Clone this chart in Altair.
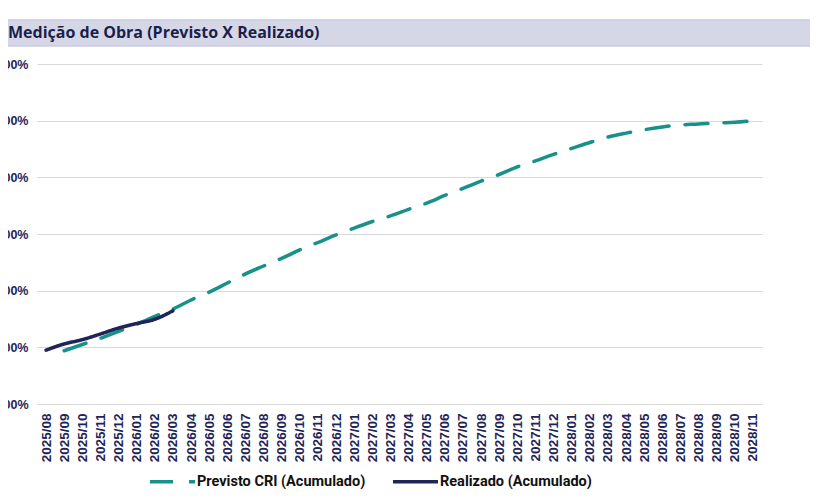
import altair as alt
import pandas as pd

meses = [
    "2025/08", "2025/09", "2025/10", "2025/11", "2025/12",
    "2026/01", "2026/02", "2026/03", "2026/04", "2026/05", "2026/06", "2026/07",
    "2026/08", "2026/09", "2026/10", "2026/11", "2026/12",
    "2027/01", "2027/02", "2027/03", "2027/04", "2027/05", "2027/06", "2027/07",
    "2027/08", "2027/09", "2027/10", "2027/11", "2027/12",
    "2028/01", "2028/02", "2028/03", "2028/04", "2028/05", "2028/06", "2028/07",
    "2028/08", "2028/09", "2028/10", "2028/11",
]

# Previsto CRI (Acumulado) from 2025/09 to 2028/11
previsto = [
    0.188, 0.210, 0.232, 0.256, 0.282, 0.309, 0.335, 0.367, 0.395, 0.427,
    0.459, 0.487, 0.514, 0.544, 0.570, 0.597, 0.621, 0.644, 0.664, 0.687,
    0.709, 0.736, 0.761, 0.787, 0.810, 0.837, 0.858, 0.881, 0.902, 0.923,
    0.942, 0.956, 0.968, 0.978, 0.985, 0.988, 0.992, 0.994, 1.000,
]
# Realizado (Acumulado) from 2025/08 to 2026/03
realizado = [0.190, 0.212, 0.227, 0.247, 0.268, 0.284, 0.299, 0.329]

serie_prev = "Previsto CRI (Acumulado)"
serie_real = "Realizado (Acumulado)"
titulo = "Medição de Obra (Previsto X Realizado)"
y_ticks = [0.0, 0.2, 0.4, 0.6, 0.8, 1.0, 1.2]

rows = []
for m, v in zip(meses[1:], previsto):
    rows.append({"mes": m, "valor": v, "serie": serie_prev})
for m, v in zip(meses, realizado):
    rows.append({"mes": m, "valor": v, "serie": serie_real})
df = pd.DataFrame(rows)

navy = "#1F2558"
teal = "#17918A"
W, H = 725, 340

lines = alt.Chart(df).mark_line(strokeWidth=3.5, strokeCap="round", interpolate="monotone").encode(
    x=alt.X("mes:N", sort=meses, scale=alt.Scale(domain=meses, type="point", padding=0.5),
            axis=alt.Axis(title=None, labelAngle=-90, labelFont="Liberation Sans", labelFontSize=13.5,
                          labelFontWeight="bold", labelColor=navy, ticks=False, domain=False,
                          labelPadding=9, grid=False)),
    y=alt.Y("valor:Q", scale=alt.Scale(domain=[0, 1.2], nice=False),
            axis=alt.Axis(title=None, values=y_ticks,
                          labelExpr="replace(format(datum.value, '.2%'), '.', ',')",
                          labelFont="Liberation Sans", labelFontSize=12.5, labelFontWeight="bold",
                          labelColor=navy, ticks=False, domain=False, labelPadding=9,
                          gridColor="#D9D9D9", gridWidth=1)),
    color=alt.Color("serie:N", scale=alt.Scale(domain=[serie_prev, serie_real], range=[teal, navy]),
                    legend=alt.Legend(title=None, orient="none", direction="horizontal",
                                      legendX=111, legendY=393, padding=0, symbolType="stroke",
                                      symbolSize=2025, symbolStrokeWidth=3.5, labelLimit=400,
                                      labelFont="Roboto", labelFontSize=14.5, labelFontWeight="bold",
                                      labelColor="#111111", labelOffset=0, columnPadding=20)),
    strokeDash=alt.StrokeDash("serie:N", scale=alt.Scale(domain=[serie_prev, serie_real],
                                                          range=[[23, 16], [1, 0]]),
                              legend=None),
    order=alt.Order("serie:N"),
)

barra = alt.Chart(pd.DataFrame({"t": [titulo]})).mark_rect(
    fill="#D5D7E7", stroke="#C9CBDF", strokeWidth=1.5
).encode(x=alt.value(-31), x2=alt.value(775), y=alt.value(-44), y2=alt.value(-18))

texto = alt.Chart(pd.DataFrame({"t": [titulo]})).mark_text(
    align="left", baseline="middle", font="Open Sans", fontSize=16, fontWeight="bold", color="#1B1F4B"
).encode(x=alt.value(-29), y=alt.value(-31), text="t:N")

chart = alt.layer(barra, texto, lines).properties(
    width=W, height=H,
    autosize=alt.AutoSizeParams(type="none"),
    padding={"left": 29, "top": 56, "right": 48, "bottom": 88},
    view=alt.ViewBackground(stroke="transparent", strokeWidth=0),
).configure_view(stroke="transparent", strokeWidth=0).configure(background="white")

chart.save("out.html", embed_options={"renderer": "svg", "actions": False})
